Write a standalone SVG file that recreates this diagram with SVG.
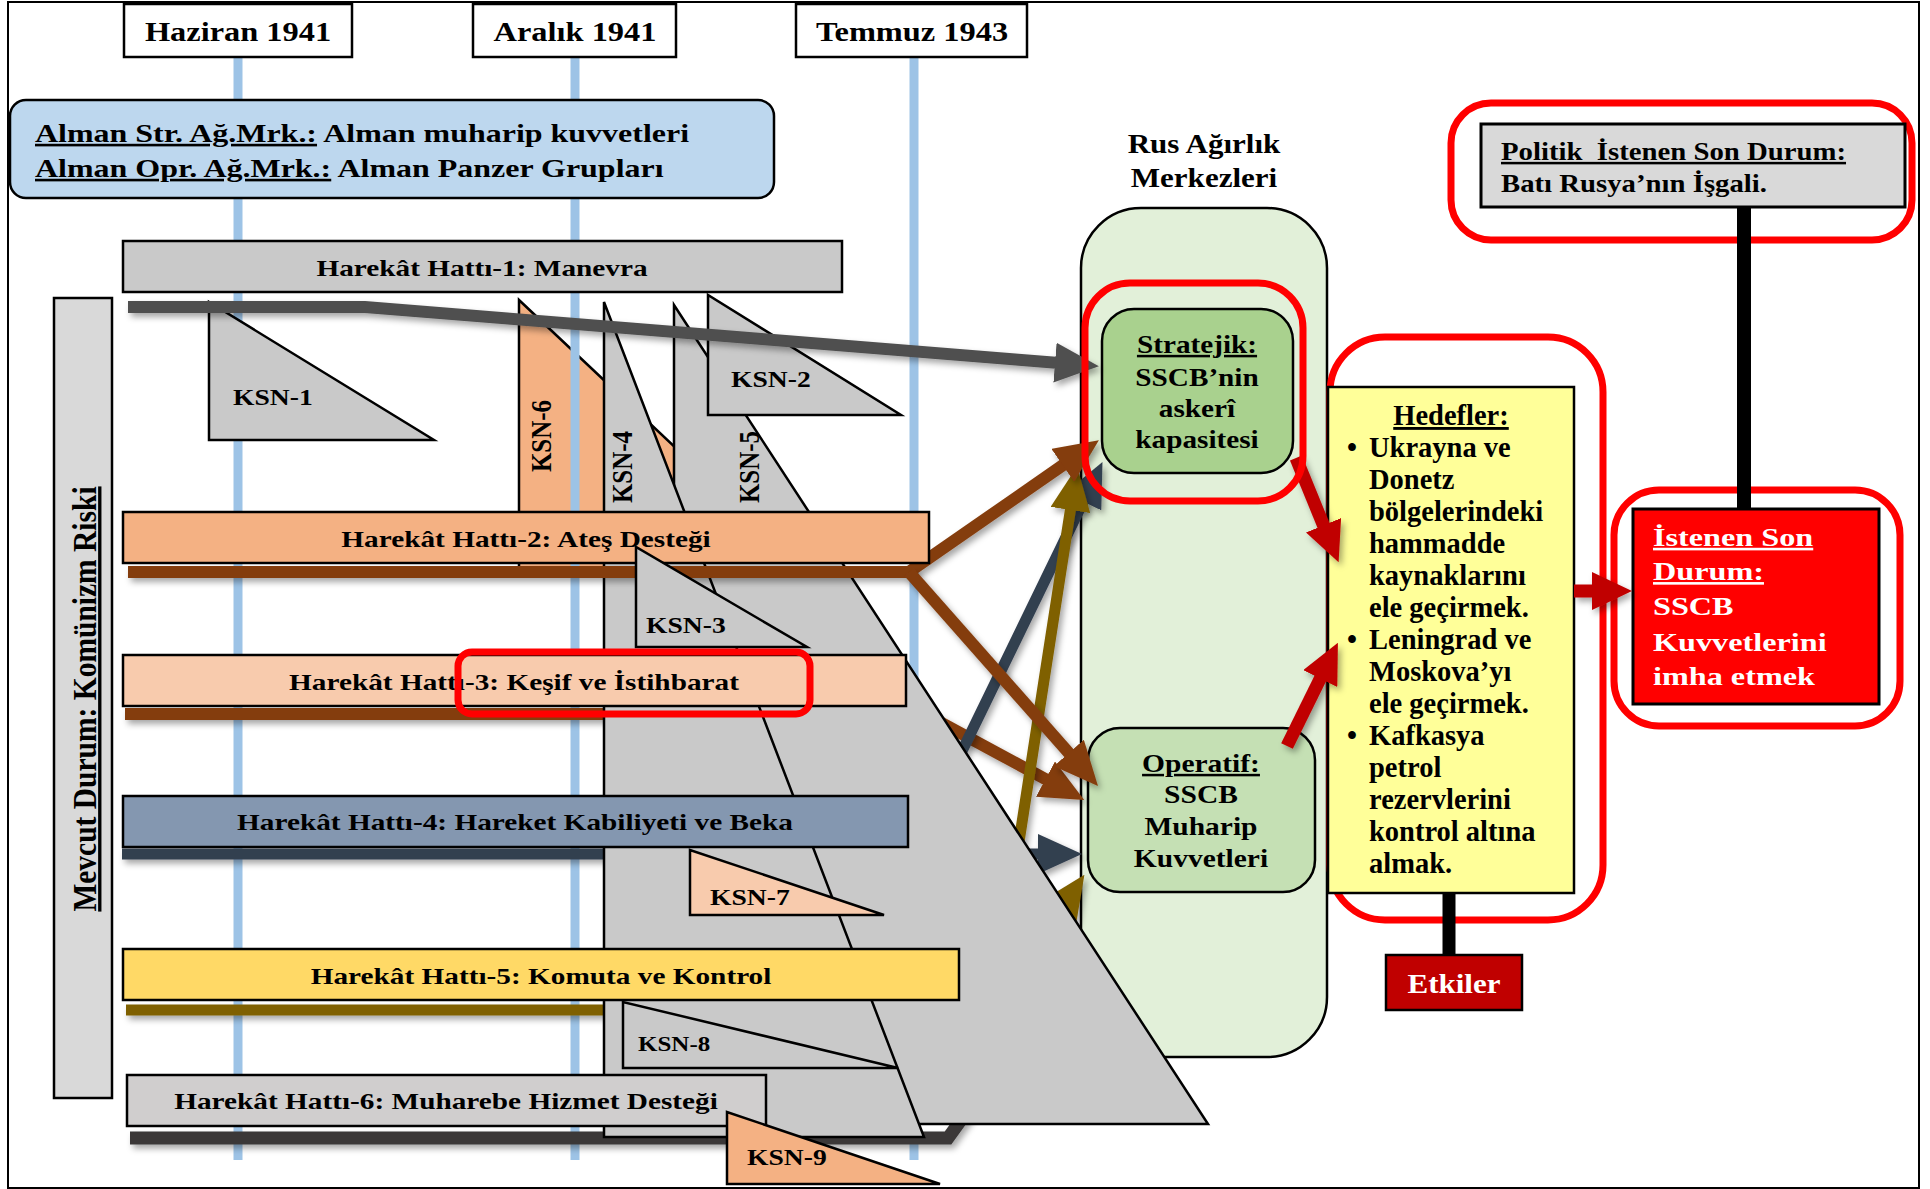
<svg xmlns="http://www.w3.org/2000/svg" width="1930" height="1189" viewBox="0 0 1930 1189">
<defs>
<style>
.t{font-family:"Liberation Serif","Times New Roman",serif;font-weight:bold;fill:#000}
.w{fill:#fff}
.u{text-decoration:underline}
.box{stroke:#000;stroke-width:2.5}
.ksn{stroke:#000;stroke-width:2.5;stroke-linejoin:miter}
.gray{fill:#C9C9C9}
.tl{stroke:#9DC3E6;stroke-width:9}
.hl{fill:none;stroke:#FF0000;stroke-width:7}
.arr{fill:none;stroke-linejoin:miter;filter:url(#sh)}
.blk{stroke:#000;fill:none}
</style>
<filter id="sh" filterUnits="userSpaceOnUse" x="0" y="0" width="1930" height="1189">
<feDropShadow dx="3" dy="4" stdDeviation="3" flood-color="#000" flood-opacity="0.35"/>
</filter>
<marker id="mg" viewBox="0 0 44 40" refX="4" refY="20" markerWidth="44" markerHeight="40" markerUnits="userSpaceOnUse" orient="auto"><path d="M0,0 L44,20 L0,40 z" fill="#505050"/></marker>
<marker id="mb" viewBox="0 0 44 40" refX="4" refY="20" markerWidth="44" markerHeight="40" markerUnits="userSpaceOnUse" orient="auto"><path d="M0,0 L44,20 L0,40 z" fill="#843C0C"/></marker>
<marker id="mn" viewBox="0 0 44 40" refX="4" refY="20" markerWidth="44" markerHeight="40" markerUnits="userSpaceOnUse" orient="auto"><path d="M0,0 L44,20 L0,40 z" fill="#333F50"/></marker>
<marker id="mo" viewBox="0 0 44 40" refX="4" refY="20" markerWidth="44" markerHeight="40" markerUnits="userSpaceOnUse" orient="auto"><path d="M0,0 L44,20 L0,40 z" fill="#7F6000"/></marker>
<marker id="mr" viewBox="0 0 40 38" refX="4" refY="19" markerWidth="40" markerHeight="38" markerUnits="userSpaceOnUse" orient="auto"><path d="M0,0 L40,19 L0,38 z" fill="#C00000"/></marker>
</defs>

<rect x="0" y="0" width="1930" height="1189" fill="#fff"/>

<g id="ksn-6">
<polygon class="ksn" points="519,300 519,568 803,568" fill="#F4B183"/>
<text class="t" font-size="25" text-anchor="middle" transform="matrix(0 -1 1.17 0 551 436)">KSN-6</text>
</g>

<g id="timeline-lines">
<line class="tl" x1="238" y1="57" x2="238" y2="1160"/>
<line class="tl" x1="575" y1="57" x2="575" y2="1160"/>
<line class="tl" x1="914" y1="57" x2="914" y2="1160"/>
</g>

<g id="hdr-haziran">
<rect class="box" x="124" y="4" width="228" height="53" fill="#fff"/>
<text class="t" font-size="27" text-anchor="middle" transform="matrix(1.2 0 0 1 238 41)">Haziran 1941</text>
</g>
<g id="hdr-aralik">
<rect class="box" x="473" y="4" width="203" height="53" fill="#fff"/>
<text class="t" font-size="27" text-anchor="middle" transform="matrix(1.2 0 0 1 575 41)">Aralık 1941</text>
</g>
<g id="hdr-temmuz">
<rect class="box" x="796" y="4" width="231" height="53" fill="#fff"/>
<text class="t" font-size="27" text-anchor="middle" transform="matrix(1.2 0 0 1 912 41)">Temmuz 1943</text>
</g>

<g id="alman">
<rect class="box" x="10" y="100" width="764" height="98" rx="16" fill="#BDD7EE"/>
<text class="t" font-size="26" transform="matrix(1.23 0 0 1 35 142)"><tspan x="0" y="0"><tspan class="u">Alman Str. Ağ.Mrk.:</tspan> Alman muharip kuvvetleri</tspan><tspan x="0" y="35"><tspan class="u">Alman Opr. Ağ.Mrk.:</tspan> Alman Panzer Grupları</tspan></text>
</g>

<g id="mevcut-durum">
<rect class="box" x="54" y="298" width="58" height="800" fill="#D9D9D9"/>
<text class="t u" font-size="29.5" text-anchor="middle" transform="matrix(0 -1 1.13 0 96 699)">Mevcut Durum: Komünizm Riski</text>
</g>

<g id="rus-agirlik">
<rect class="box" x="1081" y="208" width="246" height="849" rx="60" fill="#E2F0D9"/>
<text class="t" font-size="27" text-anchor="middle" transform="matrix(1.15 0 0 1 1204 153)"><tspan x="0" y="0">Rus Ağırlık</tspan><tspan x="0" y="34">Merkezleri</tspan></text>
</g>

<g id="stratejik">
<rect class="box" x="1102" y="309" width="191" height="164" rx="32" fill="#A9D18E"/>
<text class="t" font-size="25" text-anchor="middle" transform="matrix(1.17 0 0 1 1197 353)"><tspan x="0" y="0" class="u">Stratejik:</tspan><tspan x="0" y="33">SSCB’nin</tspan><tspan x="0" y="64">askerî</tspan><tspan x="0" y="95">kapasitesi</tspan></text>
</g>

<g id="operatif">
<rect class="box" x="1088" y="728" width="227" height="164" rx="32" fill="#C5E0B4"/>
<text class="t" font-size="25" text-anchor="middle" transform="matrix(1.18 0 0 1 1201 772)"><tspan x="0" y="0" class="u">Operatif:</tspan><tspan x="0" y="31">SSCB</tspan><tspan x="0" y="63">Muharip</tspan><tspan x="0" y="95">Kuvvetleri</tspan></text>
</g>

<g id="connectors-back">
<path class="arr" d="M125,714 L925,714 L1049,781" stroke="#843C0C" stroke-width="12" marker-end="url(#mb)"/>
<path class="arr" d="M122,854 L912,854 L1085,498" stroke="#333F50" stroke-width="11" marker-end="url(#mn)"/>
<path class="arr" d="M912,854 L1042,854" stroke="#333F50" stroke-width="11" marker-end="url(#mn)"/>
<path class="arr" d="M126,1010 L993,1010 L1071,506" stroke="#7F6000" stroke-width="11" marker-end="url(#mo)"/>
<path class="arr" d="M993,1010 L1062,908" stroke="#7F6000" stroke-width="11" marker-end="url(#mo)"/>
<path class="arr" d="M130,1138 L948,1138 L990,1080" stroke="#3B3838" stroke-width="13"/>
</g>

<g id="ksn-5">
<polygon class="ksn gray" points="674,305 674,1124 1208,1124"/>
<text class="t" font-size="25" text-anchor="middle" transform="matrix(0 -1 1.17 0 759 467)">KSN-5</text>
</g>
<g id="ksn-4">
<polygon class="ksn gray" points="604,302 604,1137 924,1137"/>
<text class="t" font-size="25" text-anchor="middle" transform="matrix(0 -1 1.17 0 632 467)">KSN-4</text>
</g>
<g id="ksn-1">
<polygon class="ksn gray" points="209,302 209,440 434,440"/>
<text class="t" font-size="23" transform="matrix(1.2 0 0 1 233 405)">KSN-1</text>
</g>
<g id="ksn-2">
<polygon class="ksn gray" points="708,295 708,415 901,415"/>
<text class="t" font-size="23" transform="matrix(1.2 0 0 1 731 387)">KSN-2</text>
</g>

<g id="connectors-front">
<path class="arr" d="M128,307 L365,307 L1059,363" stroke="#505050" stroke-width="12" marker-end="url(#mg)"/>
<path class="arr" d="M128,572 L909,572 L1066,463" stroke="#843C0C" stroke-width="12" marker-end="url(#mb)"/>
<path class="arr" d="M909,572 L1071.5,756" stroke="#843C0C" stroke-width="12" marker-end="url(#mb)"/>
</g>

<g id="hh-1">
<rect class="box" x="123" y="241" width="719" height="51" fill="#C9C9C9"/>
<text class="t" font-size="24" text-anchor="middle" transform="matrix(1.22 0 0 1 482 276)">Harekât Hattı-1: Manevra</text>
</g>
<g id="hh-2">
<rect class="box" x="123" y="512" width="806" height="51" fill="#F4B183"/>
<text class="t" font-size="24" text-anchor="middle" transform="matrix(1.22 0 0 1 526 547)">Harekât Hattı-2: Ateş Desteği</text>
</g>
<g id="hh-3">
<rect class="box" x="123" y="655" width="783" height="51" fill="#F8CBAD"/>
<text class="t" font-size="24" text-anchor="middle" transform="matrix(1.22 0 0 1 514 690)">Harekât Hattı-3: Keşif ve İstihbarat</text>
</g>
<g id="hh-4">
<rect class="box" x="123" y="796" width="785" height="51" fill="#8497B0"/>
<text class="t" font-size="24" text-anchor="middle" transform="matrix(1.22 0 0 1 515 830)">Harekât Hattı-4: Hareket Kabiliyeti ve Beka</text>
</g>
<g id="hh-5">
<rect class="box" x="123" y="949" width="836" height="51" fill="#FFD966"/>
<text class="t" font-size="24" text-anchor="middle" transform="matrix(1.22 0 0 1 541 984)">Harekât Hattı-5: Komuta ve Kontrol</text>
</g>
<g id="hh-6">
<rect class="box" x="127" y="1075" width="639" height="51" fill="#D0CECE"/>
<text class="t" font-size="24" text-anchor="middle" transform="matrix(1.22 0 0 1 446 1109)">Harekât Hattı-6: Muharebe Hizmet Desteği</text>
</g>

<g id="ksn-3">
<polygon class="ksn gray" points="636,547 636,647 807,647"/>
<text class="t" font-size="23" transform="matrix(1.2 0 0 1 646 633)">KSN-3</text>
</g>
<g id="ksn-7">
<polygon class="ksn" points="690,850 690,915 884,915" fill="#F8CBAD"/>
<text class="t" font-size="23" transform="matrix(1.2 0 0 1 710 905)">KSN-7</text>
</g>
<g id="ksn-8">
<polygon class="ksn gray" points="623,1002 623,1068 898,1068"/>
<text class="t" font-size="21" transform="matrix(1.19 0 0 1 638 1051)">KSN-8</text>
</g>
<g id="ksn-9">
<polygon class="ksn" points="727,1112 727,1184 940,1184" fill="#F4B183"/>
<text class="t" font-size="23" transform="matrix(1.2 0 0 1 747 1165)">KSN-9</text>
</g>

<g id="hedefler">
<rect class="hl" x="1330" y="337" width="273" height="583" rx="55"/>
<rect class="box" x="1328" y="387" width="246" height="506" fill="#FFFF99"/>
<text class="t u" font-size="28.5" text-anchor="middle" x="1451" y="425">Hedefler:</text>
<text class="t" font-size="28.5">
<tspan x="1347" y="457">•</tspan><tspan x="1369" y="457">Ukrayna ve</tspan>
<tspan x="1369" y="489">Donetz</tspan>
<tspan x="1369" y="521">bölgelerindeki</tspan>
<tspan x="1369" y="553">hammadde</tspan>
<tspan x="1369" y="585">kaynaklarını</tspan>
<tspan x="1369" y="617">ele geçirmek.</tspan>
<tspan x="1347" y="649">•</tspan><tspan x="1369" y="649">Leningrad ve</tspan>
<tspan x="1369" y="681">Moskova’yı</tspan>
<tspan x="1369" y="713">ele geçirmek.</tspan>
<tspan x="1347" y="745">•</tspan><tspan x="1369" y="745">Kafkasya</tspan>
<tspan x="1369" y="777">petrol</tspan>
<tspan x="1369" y="809">rezervlerini</tspan>
<tspan x="1369" y="841">kontrol altına</tspan>
<tspan x="1369" y="873">almak.</tspan>
</text>
</g>

<g id="politik">
<rect class="hl" x="1451" y="103" width="461" height="137" rx="40"/>
<rect x="1481" y="124" width="424" height="83" fill="#D9D9D9" stroke="#000" stroke-width="3"/>
<text class="t" font-size="25" transform="matrix(1.15 0 0 1 1501 160)"><tspan x="0" y="0" class="u">Politik&#160; İstenen Son Durum:</tspan><tspan x="0" y="32">Batı Rusya’nın İşgali.</tspan></text>
</g>

<g id="istenen-son-durum">
<rect class="hl" x="1614" y="490" width="286" height="236" rx="45"/>
<rect x="1633" y="509" width="246" height="195" fill="#FF0000" stroke="#000" stroke-width="3"/>
<text class="t w" font-size="26" transform="matrix(1.24 0 0 1 1653 546)"><tspan x="0" y="0" class="u">İstenen Son</tspan><tspan x="0" y="34.3" class="u">Durum:</tspan><tspan x="0" y="69.3">SSCB</tspan><tspan x="0" y="105">Kuvvetlerini</tspan><tspan x="0" y="139.3">imha etmek</tspan></text>
</g>

<g id="etkiler">
<rect class="box" x="1386" y="955" width="136" height="55" fill="#C00000"/>
<text class="t w" font-size="27" text-anchor="middle" transform="matrix(1.15 0 0 1 1454 993)">Etkiler</text>
</g>

<g id="connectors-right">
<line class="blk" x1="1744" y1="207" x2="1744" y2="509" stroke-width="14"/>
<line class="blk" x1="1449" y1="893" x2="1449" y2="955" stroke-width="13"/>
<path class="arr" d="M1296,458 L1325,529" stroke="#C00000" stroke-width="13" marker-end="url(#mr)"/>
<path class="arr" d="M1287,746 L1322,675" stroke="#C00000" stroke-width="13" marker-end="url(#mr)"/>
<path class="arr" d="M1574,591 L1596,591" stroke="#C00000" stroke-width="13" marker-end="url(#mr)"/>
</g>

<g id="highlights">
<rect class="hl" x="1085" y="283" width="218" height="218" rx="45"/>
<rect class="hl" x="458" y="652" width="352" height="62" rx="14" stroke-width="6"/>
</g>

<rect x="8" y="2" width="1911" height="1186" fill="none" stroke="#000" stroke-width="2"/>
</svg>
